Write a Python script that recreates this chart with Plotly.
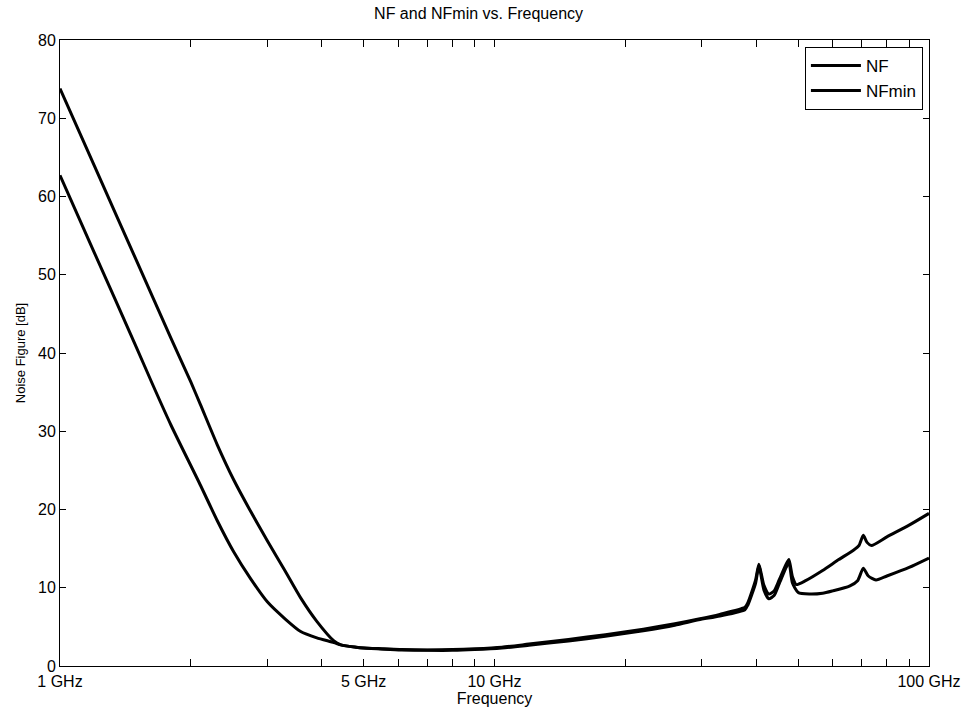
import plotly.graph_objects as go

# Frequencies in GHz
freq_nf = [1.0, 1.2, 1.5, 1.8, 2.0, 2.105, 2.3, 2.51, 2.75, 3.0, 3.3, 3.58, 3.9, 4.27, 4.43,
           4.8, 5.0, 5.57, 6.1, 7.0, 8.0, 9.0, 10.4, 12.0, 14.8, 18.0, 22.0, 26.0, 29.5, 33.0,
           37.7, 38.3, 39.9, 40.6, 41.7, 42.8, 44.0, 45.2, 46.9, 47.6, 48.5, 49.5, 52.0, 56.9,
           62.0, 67.0, 69.0, 70.6, 72.0, 73.7, 80.0, 90.0, 100.0]
nf = [73.8, 63.9, 51.8, 41.9, 36.3, 33.4, 28.3, 23.8, 19.7, 16.0, 12.1, 8.7, 5.7, 3.2, 2.7,
      2.4, 2.3, 2.2, 2.1, 2.05, 2.1, 2.2, 2.4, 2.8, 3.4, 4.0, 4.7, 5.4, 6.0, 6.6,
      7.5, 8.1, 11.0, 13.0, 10.3, 9.2, 9.6, 11.0, 13.0, 13.6, 11.4, 10.4, 10.9, 12.2,
      13.6, 14.8, 15.4, 16.7, 15.8, 15.4, 16.5, 18.0, 19.5]

freq_nfmin = [1.0, 1.2, 1.5, 1.63, 1.8, 2.105, 2.3, 2.51, 2.75, 3.0, 3.3, 3.58, 3.9, 4.27, 4.43,
              4.8, 5.0, 5.57, 6.1, 7.0, 8.0, 9.0, 10.4, 12.0, 14.8, 18.0, 22.0, 26.0, 29.5, 33.0,
              37.7, 38.3, 39.9, 40.6, 41.7, 42.8, 44.0, 45.2, 46.9, 47.6, 48.5, 50.0, 53.0, 56.9,
              60.0, 65.6, 68.5, 70.6, 72.5, 75.5, 80.0, 90.0, 100.0]
nfmin = [62.7, 52.8, 40.7, 36.1, 30.8, 23.1, 18.6, 14.6, 11.1, 8.2, 6.0, 4.4, 3.6, 3.0, 2.7,
         2.4, 2.3, 2.15, 2.05, 2.0, 2.0, 2.1, 2.3, 2.65, 3.2, 3.8, 4.5, 5.2, 5.9, 6.4,
         7.2, 7.8, 10.6, 12.8, 9.7, 8.6, 9.0, 10.5, 12.6, 13.3, 10.6, 9.4, 9.2, 9.3,
         9.6, 10.2, 10.9, 12.5, 11.5, 11.0, 11.5, 12.6, 13.8]

x_tickvals = [1, 5, 10, 100]
x_ticktext = ["1 GHz", "5 GHz", "10 GHz", "100 GHz"]
x_minor = [2, 3, 4, 6, 7, 8, 9, 20, 30, 40, 50, 60, 70, 80, 90]
y_tickvals = [0, 10, 20, 30, 40, 50, 60, 70, 80]

FONT = "Liberation Sans, Arial, sans-serif"

fig = go.Figure()
fig.add_trace(go.Scatter(x=freq_nf, y=nf, mode="lines", name="NF",
                         line=dict(color="black", width=3, shape="spline", smoothing=0.6)))
fig.add_trace(go.Scatter(x=freq_nfmin, y=nfmin, mode="lines", name="NFmin",
                         line=dict(color="black", width=3, shape="spline", smoothing=0.6)))

fig.update_layout(
    width=961, height=709,
    margin=dict(l=60, r=32, t=40, b=43, autoexpand=False),
    paper_bgcolor="white", plot_bgcolor="white",
    font=dict(family=FONT, color="black", size=16),
    title=dict(text="NF and NFmin vs. Frequency", x=0.498, xanchor="center",
               y=1 - 13 / 709, yanchor="middle", yref="container",
               font=dict(size=16, family=FONT, color="black")),
    showlegend=True,
    legend=dict(x=0.993, y=0.989, xanchor="right", yanchor="top",
                bordercolor="black", borderwidth=1, bgcolor="white",
                font=dict(size=17, family=FONT, color="black"),
                tracegroupgap=0, itemwidth=50),
)

fig.update_xaxes(
    type="log", range=[0, 2],
    tickvals=x_tickvals, ticktext=x_ticktext,
    ticks="inside", ticklen=7, tickcolor="black", tickwidth=1,
    minor=dict(tickvals=x_minor, ticks="inside", ticklen=7, tickcolor="black", showgrid=False),
    showline=True, linecolor="black", linewidth=1, mirror="ticks",
    showgrid=False, zeroline=False, automargin=False, ticklabelstandoff=1,
    tickfont=dict(size=16, family=FONT, color="black"),
    title=dict(text="Frequency", font=dict(size=16, family=FONT, color="black"), standoff=1),
)
fig.update_yaxes(
    range=[0, 80], tickvals=y_tickvals,
    ticks="inside", ticklen=6, tickcolor="black", tickwidth=1,
    showline=True, linecolor="black", linewidth=1, mirror="ticks",
    showgrid=False, zeroline=False, automargin=False,
    tickfont=dict(size=16, family=FONT, color="black"),
    title=dict(text="Noise Figure [dB]", font=dict(size=13, family=FONT, color="black"), standoff=9),
)

fig.write_html("out.html", config={"displayModeBar": False},
               post_script="document.body.style.margin='0';document.body.style.overflow='hidden';")
